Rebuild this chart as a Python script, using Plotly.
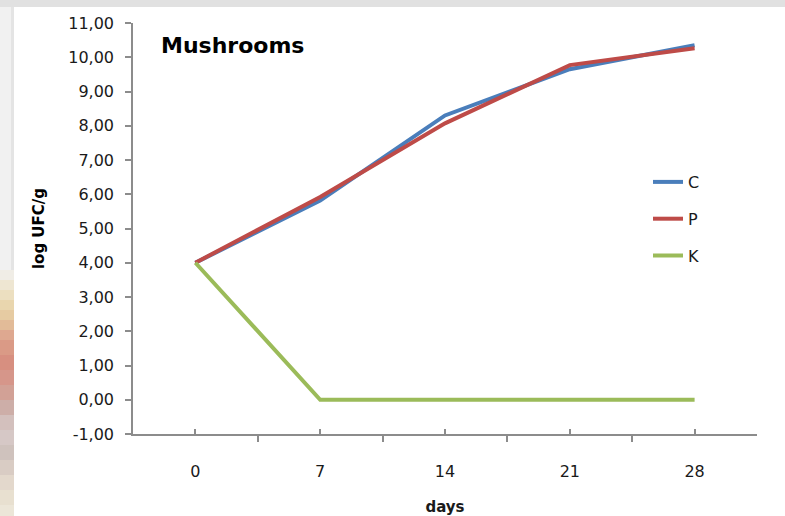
import plotly.graph_objects as go

# Sampling days and microbial counts (log UFC/g) for each treatment
days = [0, 7, 14, 21, 28]
count_c = [4.00, 5.82, 8.30, 9.65, 10.35]
count_p = [4.00, 5.92, 8.07, 9.77, 10.26]
count_k = [4.00, 0.00, 0.00, 0.00, 0.00]

y_ticks = [-1, 0, 1, 2, 3, 4, 5, 6, 7, 8, 9, 10, 11]
y_tick_text = ["-1,00", "0,00", "1,00", "2,00", "3,00", "4,00", "5,00",
               "6,00", "7,00", "8,00", "9,00", "10,00", "11,00"]

series = [("C", count_c, "#4A7EBB"), ("P", count_p, "#BE4B48"), ("K", count_k, "#9BBB59")]

W, H = 785, 516
L, R, T, B = 133, 28, 23, 82


def px_x(px):
    return (px - L) / (W - L - R)


def px_y(py):
    return (H - B - py) / (H - T - B)


fig = go.Figure()
for name, vals, color in series:
    fig.add_trace(go.Scatter(
        x=days, y=vals, name=name, mode="lines",
        line=dict(color=color, width=4),
        legendgroup=name,
    ))

# Frame around the chart: grey strip on top and blurred photo edge at the left
shapes = [
    dict(type="rect", xref="paper", yref="paper", x0=px_x(0), x1=px_x(W), y0=px_y(0), y1=px_y(7),
         fillcolor="#e1e1e1", line_width=0, layer="below"),
]
strip = [
    (7, 270, "#f1f1f1"), (270, 280, "#f0ede6"), (280, 290, "#eee6d2"), (290, 300, "#ecdfc0"),
    (300, 310, "#e9d6ae"), (310, 320, "#e6cba2"), (320, 330, "#e2bb98"), (330, 340, "#dea890"),
    (340, 355, "#da9a86"), (355, 370, "#d78f80"), (370, 385, "#d6968a"), (385, 400, "#d2a196"),
    (400, 415, "#cdaea8"), (415, 430, "#d3c0bd"), (430, 445, "#d6c8c6"), (445, 460, "#cfc2bd"),
    (460, 475, "#d9ccc4"), (475, 490, "#e3d8cc"), (490, 505, "#e8e0d0"), (505, 516, "#ece6d8"),
]
for y0, y1, c in strip:
    shapes.append(dict(type="rect", xref="paper", yref="paper", x0=px_x(0), x1=px_x(14),
                       y0=px_y(y0), y1=px_y(y1), fillcolor=c, line_width=0, layer="below"))
shapes.append(dict(type="rect", xref="paper", yref="paper", x0=px_x(11), x1=px_x(14),
                   y0=px_y(7), y1=px_y(270), fillcolor="#e4e4e4", line_width=0, layer="below"))

fig.update_layout(
    width=W, height=H,
    margin=dict(l=L, r=R, t=T, b=B, pad=0),
    paper_bgcolor="white", plot_bgcolor="rgba(0,0,0,0)",
    separators=",.",
    font=dict(family="DejaVu Sans", size=16, color="#1a1a1a"),
    showlegend=True,
    legend=dict(
        x=px_x(648), y=px_y(165), xanchor="left", yanchor="top",
        bgcolor="rgba(0,0,0,0)", font=dict(size=16, color="#1a1a1a"),
        traceorder="grouped", tracegroupgap=13, itemwidth=30,
    ),
    shapes=shapes,
    annotations=[dict(
        text="<b>Mushrooms</b>", xref="paper", yref="paper",
        x=px_x(159), y=px_y(45), xanchor="left", yanchor="middle",
        showarrow=False, font=dict(family="DejaVu Sans", size=22, color="black"),
    )],
)

fig.update_xaxes(
    range=[-3.5, 31.5], tickvals=days, ticktext=[str(d) for d in days],
    showgrid=False, zeroline=False, automargin=False,
    showline=True, linecolor="#8c8c8c", linewidth=1.5,
    ticks="inside", ticklen=5, tickcolor="#8c8c8c", tickwidth=1.5,
    minor=dict(ticks="outside", tickvals=[-3.5, 3.5, 10.5, 17.5, 24.5, 31.5],
               ticklen=6, tickcolor="#8c8c8c", tickwidth=1.5, showgrid=False),
    ticklabelstandoff=22,
    title=dict(text="<b>days</b>", font=dict(size=15, color="#1a1a1a"), standoff=22),
)
fig.update_yaxes(
    range=[-1, 11], tickvals=y_ticks, ticktext=y_tick_text,
    showgrid=False, zeroline=False, automargin=False,
    showline=True, linecolor="#8c8c8c", linewidth=1.5,
    ticks="outside", ticklen=6, tickcolor="#8c8c8c", tickwidth=1.5,
    ticklabelstandoff=8,
    title=dict(text="<b>log UFC/g</b>", font=dict(size=15, color="black"), standoff=20),
)

fig.write_html("out.html")
